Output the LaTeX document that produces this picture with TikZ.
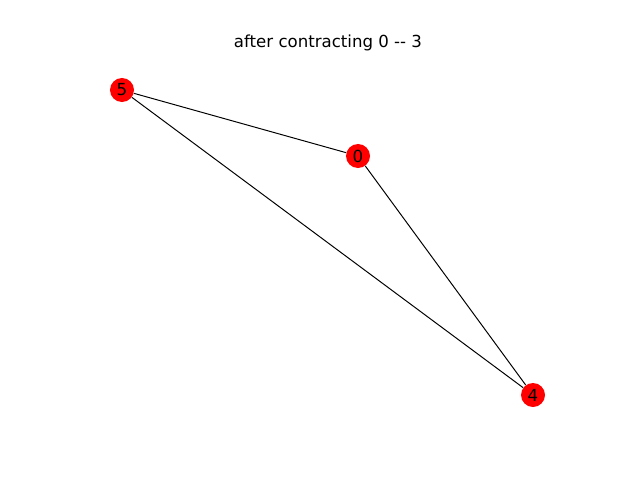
\documentclass[tikz,border=0pt]{standalone}
\usepackage{fontspec}
\setmainfont{DejaVu Sans}
\usetikzlibrary{positioning}

\begin{document}
\begin{tikzpicture}[x=0.025cm,y=-0.025cm]
\tikzset{
  graphnode/.style={circle,fill=red,minimum size=0.6cm,inner sep=0pt,font=\fontsize{11.8}{14}\selectfont},
  edge/.style={line width=0.7pt,black}
}
\useasboundingbox (0,0) rectangle (640,480);
\node[font=\fontsize{11.8}{14}\selectfont] (title) at (328,43) {after contracting 0 {-}{-} 3};
\node[graphnode] (n_5) at (122,90) {5};
\node[graphnode] (n_0) at (358,156) {0};
\node[graphnode] (n_4) at (533,395) {4};
\draw[edge] (n_5) -- (n_0);
\draw[edge] (n_5) -- (n_4);
\draw[edge] (n_0) -- (n_4);
\end{tikzpicture}
\end{document}
